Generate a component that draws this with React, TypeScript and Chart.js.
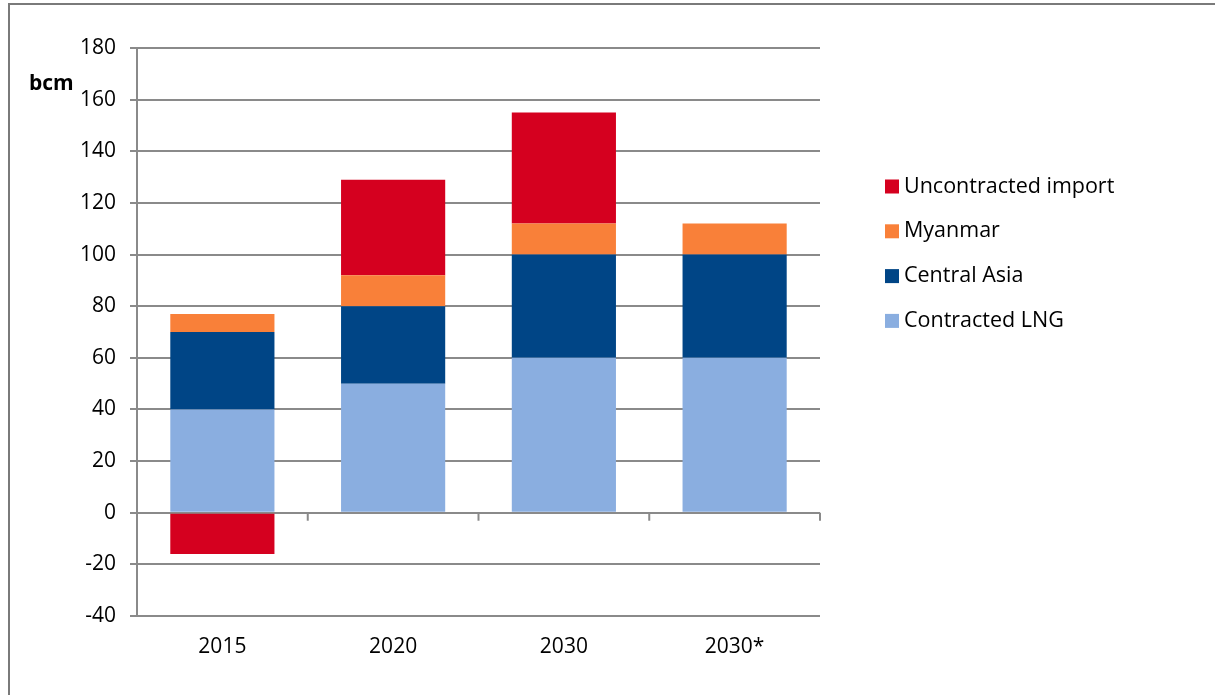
import React, { useEffect, useRef } from "react";
import { Chart, registerables } from "chart.js";

Chart.register(...registerables);

const categories = ["2015", "2020", "2030", "2030*"];
const contractedLNG = [40, 50, 60, 60];
const centralAsia = [30, 30, 40, 40];
const myanmar = [7, 12, 12, 12];
const uncontracted = [-16, 37, 43, 0];
const yTicks = [-40, -20, 0, 20, 40, 60, 80, 100, 120, 140, 160, 180];

const FONT = "'Open Sans', sans-serif";
const GRID = "#8a8a8a";

const framePlugin = {
  id: "frame",
  beforeDraw(chart: any) {
    const ctx = chart.ctx;
    ctx.save();
    ctx.fillStyle = "#ffffff";
    ctx.fillRect(0, 0, chart.width, chart.height);
    ctx.strokeStyle = "#7a7a7a";
    ctx.lineWidth = 2;
    ctx.beginPath();
    ctx.moveTo(9, chart.height);
    ctx.lineTo(9, 4);
    ctx.lineTo(chart.width, 4);
    ctx.stroke();
    ctx.restore();
  },
  afterDraw(chart: any) {
    const ctx = chart.ctx;
    const x = chart.scales.x;
    const y = chart.scales.y;
    const y0 = y.getPixelForValue(0);
    ctx.save();
    ctx.strokeStyle = GRID;
    ctx.lineWidth = 2;
    for (let i = 0; i < categories.length; i++) {
      const bx =
        i < categories.length - 1
          ? (x.getPixelForValue(i) + x.getPixelForValue(i + 1)) / 2
          : chart.chartArea.right;
      ctx.beginPath();
      ctx.moveTo(bx, y0);
      ctx.lineTo(bx, y0 + 8);
      ctx.stroke();
    }
    ctx.fillStyle = "#000";
    ctx.font = `bold 21px ${FONT}`;
    ctx.textBaseline = "middle";
    ctx.textAlign = "left";
    ctx.fillText("bcm", 29, 84);
    const ds = chart.data.datasets;
    ctx.font = `21.5px ${FONT}`;
    for (let k = 0; k < ds.length; k++) {
      const d = ds[ds.length - 1 - k];
      const cy = 186.5 + k * 44.8;
      ctx.fillStyle = d.backgroundColor;
      ctx.fillRect(885, cy - 7, 14, 14);
      ctx.fillStyle = "#000";
      ctx.fillText(d.label, 904, cy);
    }
    ctx.restore();
  },
};

export default function App() {
  const ref = useRef<HTMLCanvasElement>(null);
  useEffect(() => {
    const chart = new Chart(ref.current!, {
      type: "bar",
      data: {
        labels: categories,
        datasets: [
          { label: "Contracted LNG", data: contractedLNG, backgroundColor: "#8aaee0" },
          { label: "Central Asia", data: centralAsia, backgroundColor: "#004586" },
          { label: "Myanmar", data: myanmar, backgroundColor: "#f98039" },
          { label: "Uncontracted import", data: uncontracted, backgroundColor: "#d5001f" },
        ],
      },
      options: {
        responsive: false,
        animation: false,
        devicePixelRatio: 1,
        layout: { padding: { left: 0, right: 395, top: 48, bottom: 29 } },
        datasets: { bar: { barPercentage: 0.61, categoryPercentage: 1, borderWidth: 0 } },
        plugins: { legend: { display: false }, tooltip: { enabled: false } },
        scales: {
          x: {
            stacked: true,
            grid: { display: false, drawTicks: false },
            border: { display: false },
            ticks: { color: "#000", font: { family: FONT, size: 21 }, padding: 18 },
            afterFit: (s: any) => {
              s.height = 50;
            },
          },
          y: {
            stacked: true,
            min: -40,
            max: 180,
            afterBuildTicks: (s: any) => {
              s.ticks = yTicks.map((v) => ({ value: v }));
            },
            grid: { color: GRID, lineWidth: 2, tickLength: 7, drawTicks: true },
            border: { color: GRID, width: 2 },
            ticks: { color: "#000", font: { family: FONT, size: 21 }, padding: 14 },
            afterFit: (s: any) => {
              s.width = 137;
            },
          },
        },
      },
      plugins: [framePlugin],
    });
    return () => chart.destroy();
  }, []);
  return (
    <div style={{ position: "fixed", left: 0, top: 0, width: 1215, height: 695 }}>
      <canvas ref={ref} width={1215} height={695} style={{ width: 1215, height: 695 }} />
    </div>
  );
}
